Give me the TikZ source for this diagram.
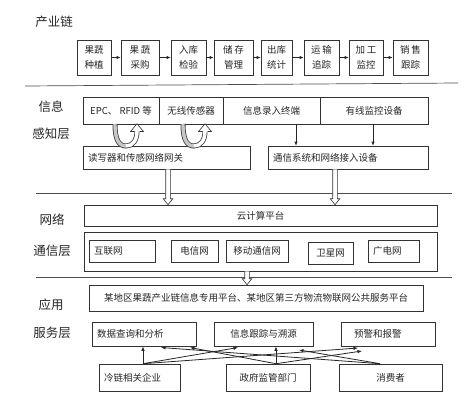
\documentclass[tikz,border=0pt]{standalone}
\usepackage{fontspec}
\setmainfont{Noto Sans CJK SC}
\usetikzlibrary{arrows.meta,calc}
\newcommand{\hollowdown}[2]{%
  \draw[hollow] let \p1=#1, \p2=#2 in
  (\x1-2.3pt,\y1) -- (\x1-2.3pt,\y2+6pt) -- (\x1-4.8pt,\y2+6pt) -- (\x1,\y2)
  -- (\x1+4.8pt,\y2+6pt) -- (\x1+2.3pt,\y2+6pt) -- (\x1+2.3pt,\y1);
}
\newcommand{\loopband}{%
  \draw[line width=5pt, black!75] (115,124) .. controls (115,140) and (119,146) .. (126,146)
     .. controls (133,146) and (137,140) .. (137,131);
  \draw[line width=3.4pt, gray!45] (115,124) .. controls (115,140) and (119,146) .. (126.2,146);
  \draw[line width=3.4pt, white] (126,146) .. controls (133,146) and (137,140) .. (137,131);
  \draw[fill=white, draw=black!80, line width=0.6pt] (134.5,131.5) -- (130.5,131.5) -- (137,123.8)
     -- (143.5,131.5) -- (139.5,131.5);
}
\begin{document}
\begin{tikzpicture}[x=1pt,y=-1pt,
  box/.style={draw=black!80, line width=0.6pt, inner sep=0pt, text=black!85,
    font=\fontsize{9.5}{11}\selectfont},
  lbox/.style={box, inner xsep=5pt, align=left},
  cbox/.style={box, align=center, font=\fontsize{9.5}{15}\selectfont},
  layer/.style={font=\fontsize{12.5}{14}\selectfont, text=black!85},
  sep/.style={draw=black!70, line width=0.7pt},
  arr/.style={-{Latex[length=4pt,width=3.2pt]}, line width=0.6pt, draw=black!85},
  barr/.style={-{Latex[length=4.5pt,width=3.6pt]}, line width=0.8pt, draw=black!85},
  hollow/.style={draw=black!80, fill=white, line width=0.6pt}]
\useasboundingbox (0,0) rectangle (476,400);

% ---------- industry chain ----------
\node[layer] (lchain) at (54,22) {产业链};
\node[cbox, minimum width=34pt, minimum height=35pt] (c1) at (94,57.5) {果蔬\\种植};
\node[cbox, minimum width=38pt, minimum height=35pt] (c2) at (140,57.5) {果\,蔬\\采购};
\node[cbox, minimum width=35pt, minimum height=35pt] (c3) at (188.5,57.5) {入库\\检验};
\node[cbox, minimum width=39pt, minimum height=35pt] (c4) at (233.5,57.5) {储\,存\\管理};
\node[cbox, minimum width=31pt, minimum height=35pt] (c5) at (276.5,57.5) {出库\\统计};
\node[cbox, minimum width=35pt, minimum height=35pt] (c6) at (321.5,57.5) {运\,输\\追踪};
\node[cbox, minimum width=34pt, minimum height=35pt] (c7) at (366,57.5) {加\,工\\监控};
\node[cbox, minimum width=35pt, minimum height=35pt] (c8) at (410.5,57.5) {销\,售\\跟踪};
\foreach \a/\b in {c1/c2,c2/c3,c3/c4,c4/c5,c5/c6,c6/c7,c7/c8}
  \draw[arr] (\a.east) -- (\b.west);

\draw[sep] (25,86) -- (458,83);
\draw[sep] (36,193) -- (452,193);
\draw[sep] (36,277) -- (452,277);

% ---------- perception layer ----------
\node[layer] (lp1) at (51,107) {信息};
\node[layer] (lp2) at (51,134) {感知层};
\node[box, minimum width=76pt, minimum height=27pt] (p1) at (121,110.5) {EPC、 RFID 等};
\node[box, minimum width=64pt, minimum height=27pt] (p2) at (191,110.5) {无线传感器};
\node[box, minimum width=97pt, minimum height=27pt] (p3) at (271.5,110.5) {信息录入终端};
\node[box, minimum width=108pt, minimum height=27pt] (p4) at (374,110.5) {有线监控设备};
\node[lbox, text width=157pt, minimum height=23pt] (reader) at (166.5,157.5) {读写器和传感网络网关};
\node[lbox, text width=150pt, minimum height=23pt] (comm) at (348,157.5) {通信系统和网络接入设备};

\coordinate (d1) at (296,0);
\coordinate (d2) at (373,0);
\draw[arr] (p3.south -| d1) -- (comm.north -| d1);
\draw[arr] (p4.south -| d2) -- (comm.north -| d2);

\loopband
\begin{scope}[xshift=68pt]
\loopband
\end{scope}

% ---------- network layer ----------
\node[layer] (ln1) at (52,220) {网络};
\node[layer] (ln2) at (52,251) {通信层};
\node[box, minimum width=353pt, minimum height=21pt] (cloud) at (260.5,215.5) {云计算平台};
\node[box, minimum width=353pt, minimum height=39pt] (outer) at (260.5,251.5) {};
\node[lbox, text width=56pt, minimum height=22pt] (n1) at (122,251) {互联网};
\node[box, minimum width=47pt, minimum height=22pt] (n2) at (194.5,251) {电信网};
\node[box, minimum width=62pt, minimum height=22pt] (n3) at (257,251) {移动通信网};
\node[box, minimum width=45pt, minimum height=22pt] (n4) at (330.5,253) {卫星网};
\node[lbox, text width=41pt, minimum height=22pt] (n5) at (393.5,251) {广电网};

\coordinate (h1) at (168,0);
\coordinate (h2) at (335,0);
\coordinate (h3) at (247,0);
\hollowdown{(reader.south -| h1)}{(cloud.north -| h1)}
\hollowdown{(comm.south -| h2)}{(cloud.north -| h2)}

% ---------- application layer ----------
\node[layer] (la1) at (51,305) {应用};
\node[layer] (la2) at (52,333) {服务层};
\node[box, minimum width=334pt, minimum height=26pt] (plat) at (256,298)
  {某地区果蔬产业链信息专用平台、某地区第三方物流物联网公共服务平台};
\hollowdown{(outer.south -| h3)}{(plat.north -| h3)}

\node[lbox, text width=94pt, minimum height=24pt] (s1) at (144,334) {数据查询和分析};
\node[box, minimum width=99pt, minimum height=24pt] (s2) at (263.5,334) {信息跟踪与溯源};
\node[lbox, text width=84pt, minimum height=24pt] (s3) at (388,334) {\hspace*{8pt}预警和报警};

\node[lbox, text width=71pt, minimum height=27pt] (u1) at (139.5,377.5) {冷链相关企业};
\node[box, minimum width=84pt, minimum height=27pt] (u2) at (268,377.5) {政府监管部门};
\node[box, minimum width=103pt, minimum height=27pt] (u3) at (390.5,377.5) {消费者};

\coordinate (k1) at (143,0);
\coordinate (k2) at (276,0);
\coordinate (k3) at (380,0);
\coordinate (t12) at (238,347.5);
\coordinate (t13) at (358,348);
\coordinate (t21) at (190,347.5);
\coordinate (t23) at (362,351);
\coordinate (t31) at (161,347.5);
\coordinate (t32) at (299,350);

\draw[barr] (u1.north -| k1) -- (s1.south -| k1);
\draw[barr] (u1.north -| k1) -- (t12);
\draw[barr] (u1.north -| k1) -- (t13);
\draw[barr] (u2.north -| k2) -- (s2.south -| k2);
\draw[barr] (u2.north -| k2) -- (t21);
\draw[barr] (u2.north -| k2) -- (t23);
\draw[barr] (u3.north -| k3) -- (t31);
\draw[barr] (u3.north -| k3) -- (t32);
\end{tikzpicture}
\end{document}
